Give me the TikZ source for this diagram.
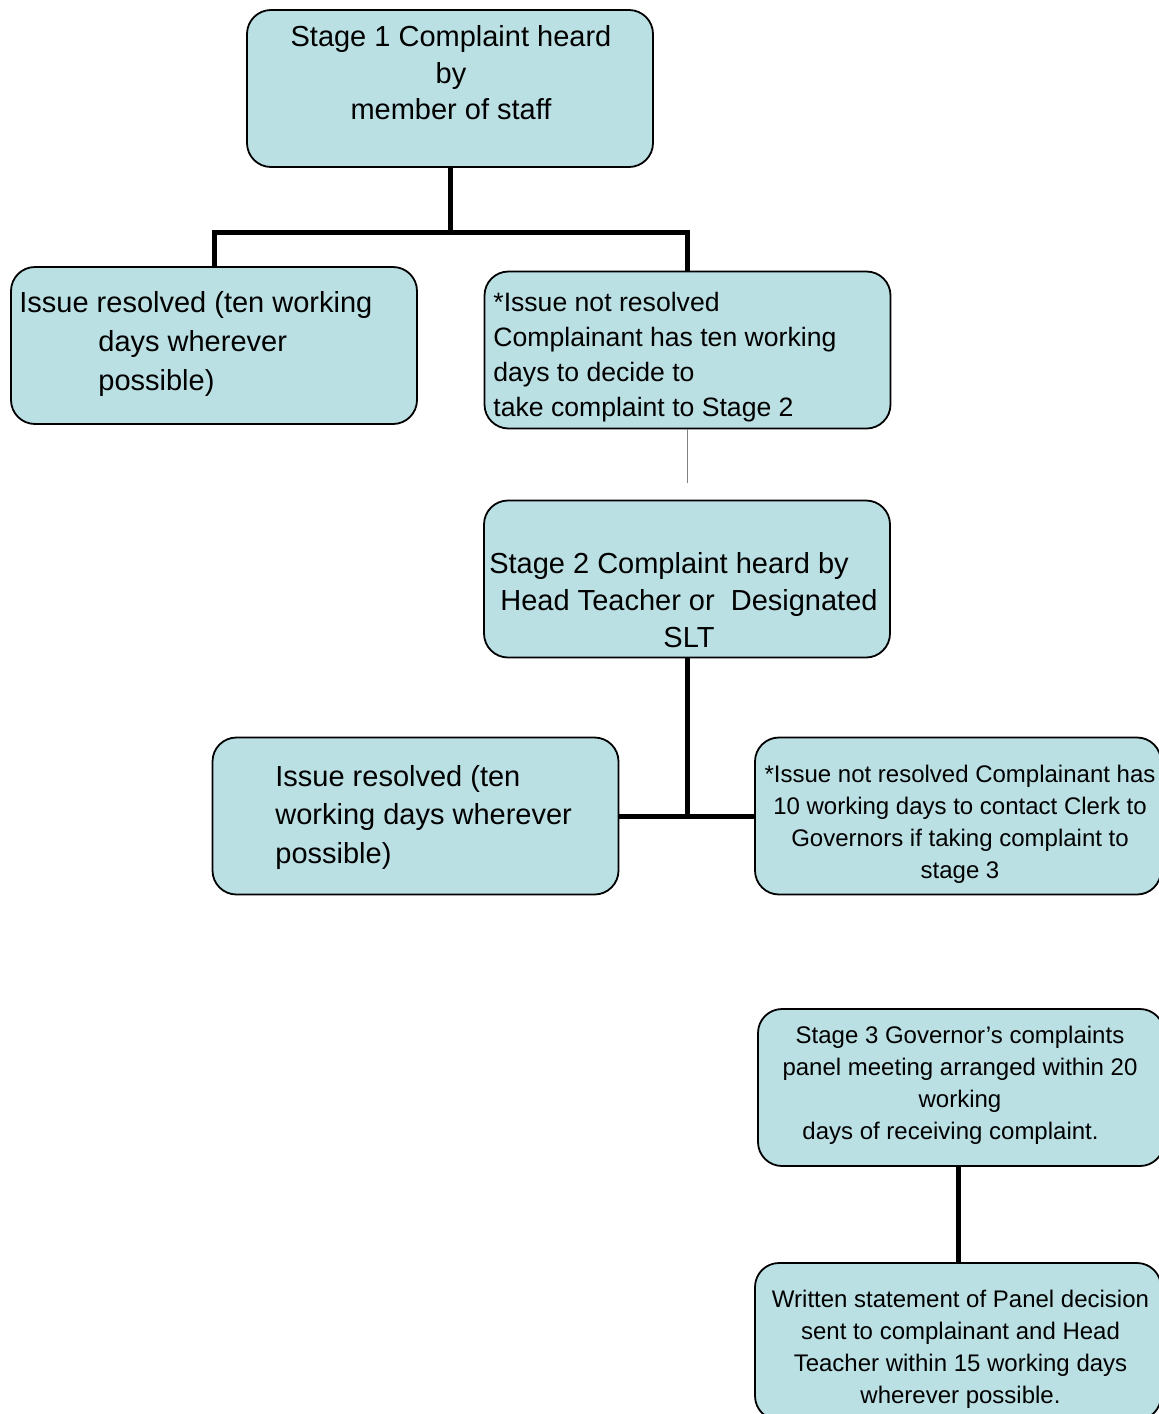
\documentclass[tikz,border=0pt]{standalone}
\usepackage{fontspec}
\setmainfont{Liberation Sans}
\usetikzlibrary{positioning}
\definecolor{boxfill}{HTML}{BAE0E4}
\definecolor{thinlink}{HTML}{808080}
\tikzset{
  stagebox/.style={draw, fill=boxfill, line width=0.9pt, rounded corners=12pt,
    minimum width=203pt, minimum height=78.5pt, inner sep=0pt},
  boxtext/.style={inner sep=0pt, font=\fontsize{14.5}{19}\selectfont},
  smalltext/.style={inner sep=0pt, align=center, font=\fontsize{12}{16}\selectfont},
  link/.style={line width=2.5pt},
}

\begin{document}
\begin{tikzpicture}[x=0.5pt,y=-0.5pt]
        \useasboundingbox (0,0) rectangle (1158,1414);

        % boxes
        \node[stagebox] (stageone) at (450,88.5) {};
        \node[stagebox] (resolvedone) at (214,345.5) {};
        \node[stagebox] (notresolvedone) at (687.5,350) {};
        \node[stagebox] (stagetwo) at (687,579) {};
        \node[stagebox] (resolvedtwo) at (415.5,816) {};
        \node[stagebox] (notresolvedtwo) at (958,816) {};
        \node[stagebox] (stagethree) at (961,1087.5) {};
        \node[stagebox] (decision) at (958,1341.5) {};

        % texts
        \node[boxtext, align=center, font=\fontsize{14.5}{18.25}\selectfont] (stageonetxt) at (451,73)
          {Stage 1 Complaint heard\\by\\member of staff};
        \node[boxtext, align=left, anchor=west, font=\fontsize{14.5}{19.5}\selectfont] (resolvedonetxt) at (19,344)
          {Issue resolved (ten working\\\hspace*{39.5pt}days wherever\\\hspace*{39.5pt}possible)};
        \node[boxtext, align=left, anchor=west, font=\fontsize{13.3}{17.5}\selectfont] (notresolvedonetxt) at (493,357)
          {*Issue not resolved\\Complainant has ten working\\days to decide to\\take complaint to Stage 2};
        \node[boxtext, align=center, font=\fontsize{14.5}{18.5}\selectfont] (stagetwotxt) at (689,600)
          {Stage 2 Complaint heard by\hspace*{20pt}\\Head Teacher or \ Designated\\SLT};
        \node[boxtext, align=left, anchor=west, font=\fontsize{14.5}{19.25}\selectfont] (resolvedtwotxt) at (275,817)
          {Issue resolved (ten\\working days wherever\\possible)};
        \node[smalltext] (notresolvedtwotxt) at (960,824)
          {*Issue not resolved Complainant has\\10 working days to contact Clerk to\\Governors if taking complaint to\\stage 3};
        \node[smalltext] (stagethreetxt) at (960,1085.5)
          {Stage 3 Governor’s complaints\\panel meeting arranged within 20\\working\\days of receiving complaint.\hspace*{9.5pt}};
        \node[smalltext] (decisiontxt) at (960.5,1349.5)
          {Written statement of Panel decision\\sent to complainant and Head\\Teacher within 15 working days\\wherever possible.};

        % connectors
        \coordinate (splitone) at (450,232);
        \coordinate (splittwo) at (687,816);
        \coordinate (gapend) at (687.5,483);
        \draw[link] (stageone.south) -- (splitone);
        \draw[link] (resolvedone.north) |- (splitone) -| (notresolvedone.north);
        \draw[thinlink, line width=0.6pt] (notresolvedone.south) -- (gapend);
        \draw[link] (stagetwo.south) -- (splittwo);
        \draw[link] (resolvedtwo.east) -- (notresolvedtwo.west);
        \draw[link] (decision.north |- stagethree.south) -- (decision.north);
    \end{tikzpicture}
\end{document}
